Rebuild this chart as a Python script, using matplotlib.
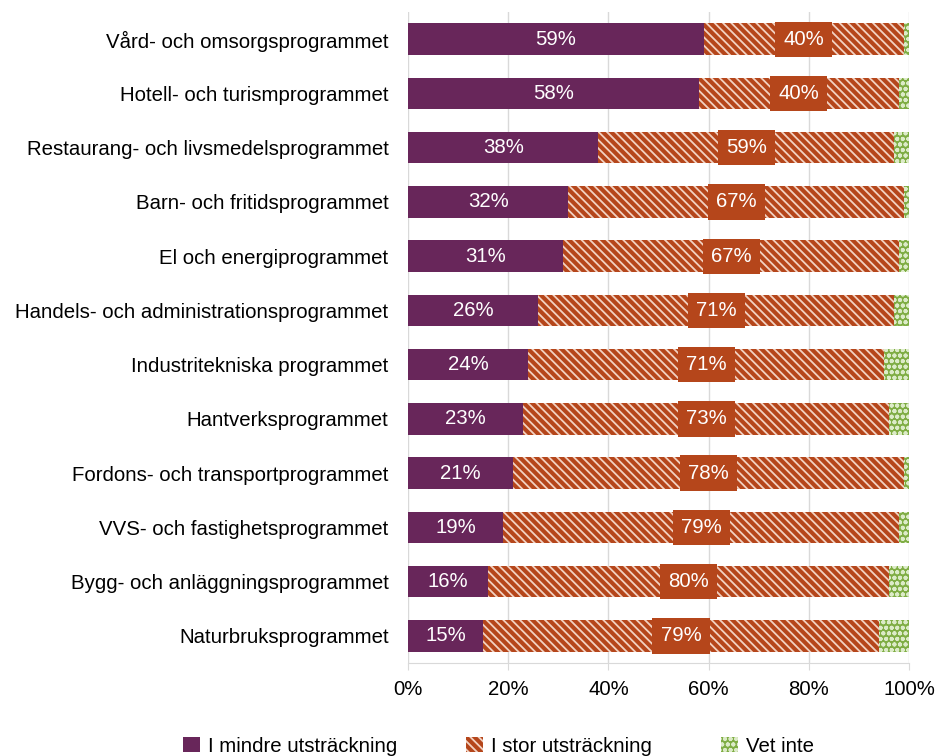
import matplotlib.pyplot as plt
import numpy as np
from matplotlib.patches import Patch

plt.rcParams['font.family'] = ['Liberation Sans', 'DejaVu Sans']
plt.rcParams['hatch.linewidth'] = 1.3

programs = ['Vård- och omsorgsprogrammet', 'Hotell- och turismprogrammet',
            'Restaurang- och livsmedelsprogrammet', 'Barn- och fritidsprogrammet',
            'El och energiprogrammet', 'Handels- och administrationsprogrammet',
            'Industritekniska programmet', 'Hantverksprogrammet',
            'Fordons- och transportprogrammet', 'VVS- och fastighetsprogrammet',
            'Bygg- och anläggningsprogrammet', 'Naturbruksprogrammet']
mindre = [59, 58, 38, 32, 31, 26, 24, 23, 21, 19, 16, 15]
stor = [40, 40, 59, 67, 67, 71, 71, 73, 78, 79, 80, 79]
vet_inte = [1, 2, 3, 1, 2, 3, 5, 4, 1, 2, 4, 6]
series_names = ['I mindre utsträckning', 'I stor utsträckning', 'Vet inte']

purple = '#68265A'
orange = '#B5461B'
green = '#7FAD44'
fs = 14.7

fig = plt.figure(figsize=(9.37, 7.56), dpi=100)
ax = fig.add_axes([0.4354, 0.123, 0.5347, 0.861])

y = np.arange(len(programs))
h = 0.58
left2 = np.array(mindre)
left3 = left2 + np.array(stor)

b1 = ax.barh(y, mindre, height=h, color=purple, linewidth=0)
b2 = ax.barh(y, stor, left=left2, height=h, color=orange, edgecolor='#F2D2C2',
             hatch='\\\\\\\\', linewidth=0)
b3 = ax.barh(y, vet_inte, left=left3, height=h, color=green, edgecolor='#DCEBC8',
             hatch='ooo', linewidth=0)

ax.bar_label(b1, labels=['%d%%' % v for v in mindre], label_type='center',
             color='white', fontsize=fs)
ax.bar_label(b2, labels=['%d%%' % v for v in stor], label_type='center',
             color='white', fontsize=fs,
             bbox=dict(boxstyle='square,pad=0.4', fc=orange, ec='none'))

ax.set_ylim(len(programs) - 0.5, -0.5)
ax.set_yticks(y)
ax.set_yticklabels(programs, fontsize=fs)
ax.tick_params(axis='y', length=0, pad=14)
ax.set_xlim(0, 100)
ax.set_xticks(range(0, 101, 20))
ax.set_xticklabels(['%d%%' % v for v in range(0, 101, 20)], fontsize=fs)
ax.tick_params(axis='x', length=5, color='#D9D9D9', pad=7)
ax.xaxis.grid(True, color='#D9D9D9', linewidth=1)
ax.set_axisbelow(True)
for s in ['top', 'right', 'left']:
    ax.spines[s].set_visible(False)
ax.spines['bottom'].set_color('#D9D9D9')

handles = [Patch(facecolor=purple, linewidth=0),
           Patch(facecolor=orange, edgecolor='#F2D2C2', hatch='\\\\\\\\', linewidth=0),
           Patch(facecolor=green, edgecolor='#DCEBC8', hatch='ooo', linewidth=0)]
fig.legend(handles, series_names, loc='lower center', ncol=3, frameon=False,
           fontsize=fs, bbox_to_anchor=(0.532, -0.024), handlelength=0.8,
           handleheight=0.8, handletextpad=0.4, columnspacing=3.4)

fig.savefig('out.png', dpi=100)
